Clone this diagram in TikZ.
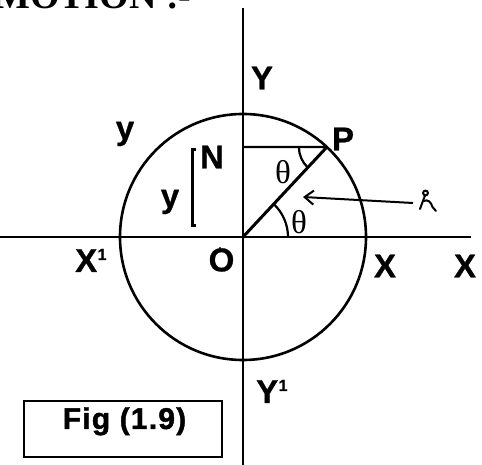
\documentclass[tikz,border=0pt]{standalone}
\usepackage{fontspec}
\setmainfont{Liberation Serif}
\newfontfamily\labfont[FakeBold=0.8]{Liberation Sans}
\newfontfamily\figfont[LetterSpace=4,FakeBold=1.4]{Liberation Sans}
\usetikzlibrary{arrows.meta,calc}
\begin{document}
\begin{tikzpicture}[x=1pt,y=1pt,
  axis/.style={line width=2.2pt},
  lab/.style={font=\labfont\fontsize{33}{33}\bfseries\selectfont, inner sep=0pt},
  sup/.style={font=\labfont\fontsize{16}{16}\bfseries\selectfont, inner sep=0pt},
  gk/.style={font=\fontsize{33}{33}\selectfont, inner sep=0pt}]
\useasboundingbox (0,0) rectangle (482,465);
% title (cut off at top)
\node[font=\fontsize{38}{38}\bfseries\selectfont, anchor=base west, inner sep=0pt] (title) at (-6,456) {MOTION :-};
% axes
\coordinate (O) at (243,228);
\coordinate (ytop) at (243,457);
\coordinate (ybot) at (243,0);
\coordinate (xl) at (0,228);
\coordinate (xr) at (471,228);
\draw[axis] (ytop) -- (ybot);
\draw[axis] (xl) -- (xr);
% circle
\draw[line width=2.6pt] (O) circle[radius=123];
% radius and projection
\coordinate (P) at ($(O)+(47:123)$);
\coordinate (N) at (243,318);
\draw[line width=3pt] (O) -- (P);
\draw[line width=2.2pt] (N) -- (P);
% angle arcs
\draw[line width=2.2pt] ($(O)+(45,0)$) arc[start angle=0,end angle=47,radius=45];
\draw[line width=2.2pt] ($(P)+(-28,0)$) arc[start angle=180,end angle=227,radius=28];
% bracket
\draw[line width=3pt] (196,315) -- (192,315) -- (192,239) -- (196,239);
% arrow
\coordinate (as) at (413,262);
\coordinate (ae) at (303,268);
\draw[line width=2pt,-{Straight Barb[length=9pt,width=14pt,line width=2pt]}] (as) -- (ae);
% r symbol
\draw[line width=2pt, line cap=round] (425.5,272) circle[radius=2.4];
\draw[line width=2pt, line cap=round] (425,269.6) -- (420,256);
\draw[line width=2pt, line cap=round] (423.5,264) .. controls (428,266) and (431,263) .. (432.5,258) -- (436,254);
% dot near O
\fill (220,217) circle[radius=1];
% labels
\node[lab] (lY) at (262,387) {Y};
\node[lab, anchor=base west] (lY1) at (256,62) {Y};
\node[sup, anchor=base west] (lY1s) at (lY1.base east) [yshift=12pt] {1};
\node[lab, anchor=base west] (lX1) at (75,193) {X};
\node[sup, anchor=base west] (lX1s) at (lX1.base east) [yshift=12pt] {1};
\node[lab] (lO) at (221.5,205) {O};
\node[lab] (lX) at (385,199) {X};
\node[lab] (lXX) at (465,199) {X};
\node[lab] (ly1) at (125,331) {y};
\node[lab] (ly2) at (170,263) {y};
\node[lab] (lN) at (212,308) {N};
\node[lab] (lP) at (343,326) {P};
\node[gk] (t1) at (283,293) {θ};
\node[gk] (t2) at (299,243) {θ};
% figure box
\draw[line width=2.4pt] (24,8) rectangle (222,64);
\node[font=\figfont\fontsize{30}{30}\bfseries\selectfont, anchor=base, inner sep=0pt] (fig) at (124.5,36) {Fig (1.9)};
\end{tikzpicture}
\end{document}
